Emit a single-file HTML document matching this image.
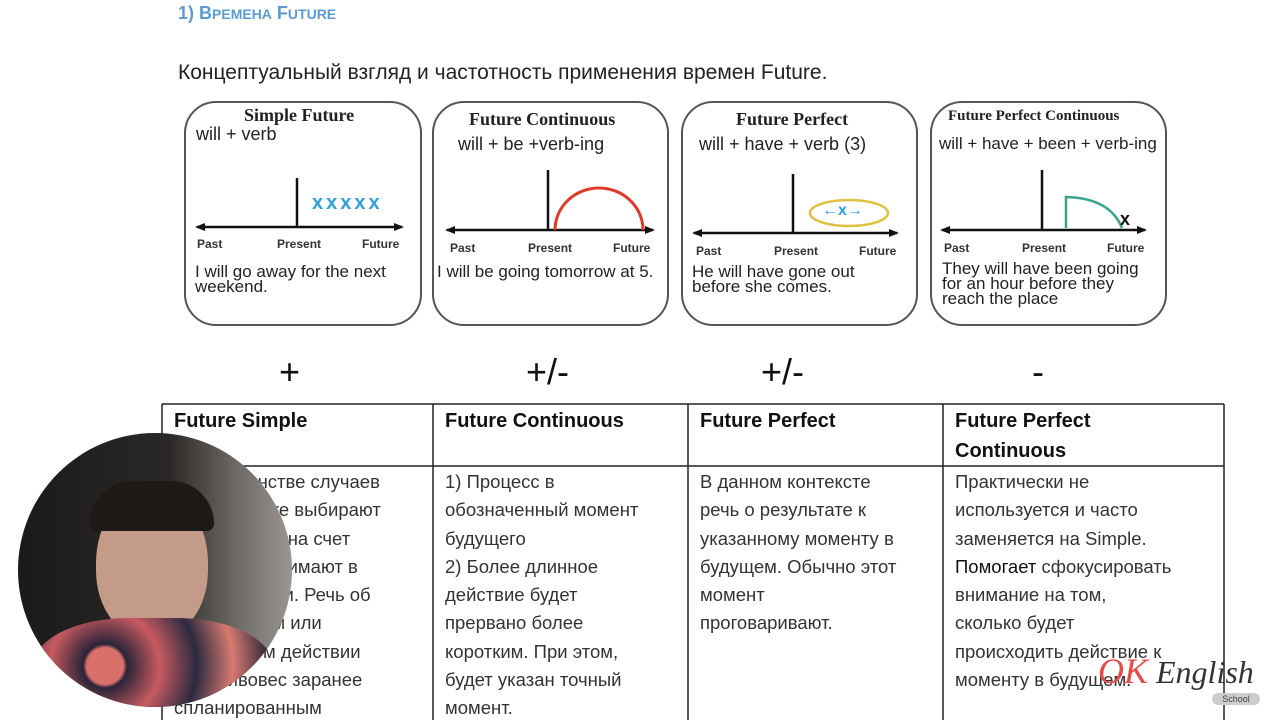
<!DOCTYPE html>
<html><head><meta charset="utf-8"><style>
body{margin:0;width:1280px;height:720px;overflow:hidden;background:#fff;position:relative;font-family:"Liberation Sans",sans-serif;color:#222}
.a{position:absolute;white-space:nowrap}
.card{position:absolute;border:2px solid #555;border-radius:32px;background:#fff;box-sizing:border-box}
.t{font-family:"Liberation Serif",serif;font-weight:bold;font-size:18px;color:#222}
.f{font-size:18px;color:#222}
.s{font-size:17px;color:#222;line-height:15px}
.lb{font-size:12px;font-weight:bold;color:#333}
.cell{position:absolute;font-size:18.5px;line-height:28.3px;color:#333;white-space:nowrap}
.h{position:absolute;font-size:20px;font-weight:bold;line-height:30px;color:#111}
.sym{position:absolute;font-size:36px;color:#111}
</style></head><body>
<div class="a" style="left:178px;top:3px;font-size:18px;font-weight:bold;color:#5b9bd5">1) В<span style="font-size:14px">РЕМЕНА</span> F<span style="font-size:14px">UTURE</span></div>
<div class="a" style="left:178px;top:61px;font-size:21px;color:#222">Концептуальный взгляд и частотность применения времен Future.</div>

<div class="card" style="left:184px;top:101px;width:238px;height:225px"></div>
<div class="card" style="left:432px;top:101px;width:237px;height:225px"></div>
<div class="card" style="left:681px;top:101px;width:237px;height:225px"></div>
<div class="card" style="left:930px;top:101px;width:237px;height:225px"></div>

<div class="a t" style="left:244px;top:105px">Simple Future</div>
<div class="a f" style="left:196px;top:124px">will + verb</div>
<div class="a t" style="left:469px;top:109px">Future Continuous</div>
<div class="a f" style="left:458px;top:134px">will + be +verb-ing</div>
<div class="a t" style="left:736px;top:109px">Future Perfect</div>
<div class="a f" style="left:699px;top:134px">will + have + verb (3)</div>
<div class="a t" style="left:948px;top:108px;font-size:15px">Future Perfect Continuous</div>
<div class="a f" style="left:939px;top:134px;font-size:17px">will + have + been + verb-ing</div>

<svg class="a" style="left:0;top:0" width="1280" height="340">
<defs><marker id="ar" markerUnits="userSpaceOnUse" markerWidth="10" markerHeight="8" refX="8" refY="4" orient="auto-start-reverse"><path d="M0,0L10,4L0,8z" fill="#111"/></marker></defs>
<g stroke="#111" stroke-width="2.5">
<line x1="197" y1="227" x2="402" y2="227" marker-start="url(#ar)" marker-end="url(#ar)"/>
<line x1="297" y1="178" x2="297" y2="227"/>
<line x1="447" y1="230" x2="653" y2="230" marker-start="url(#ar)" marker-end="url(#ar)"/>
<line x1="548" y1="170" x2="548" y2="230"/>
<line x1="694" y1="233" x2="897" y2="233" marker-start="url(#ar)" marker-end="url(#ar)"/>
<line x1="793" y1="174" x2="793" y2="233"/>
<line x1="942" y1="230" x2="1145" y2="230" marker-start="url(#ar)" marker-end="url(#ar)"/>
<line x1="1042" y1="170" x2="1042" y2="230"/>
</g>
<path d="M555,230 A44,42 0 0 1 643,230" fill="none" stroke="#e03a2a" stroke-width="3"/>
<ellipse cx="849" cy="213" rx="39" ry="13" fill="none" stroke="#e0c040" stroke-width="2.5"/>
<path d="M1066,228 L1066,197 Q1110,198 1122,228" fill="none" stroke="#3aa38a" stroke-width="2.5"/>
</svg>
<div class="a" style="left:312px;top:192px;font-size:20px;font-weight:bold;color:#2ea0dc;letter-spacing:3px">xxxxx</div>
<div class="a" style="left:822px;top:202px;font-size:16px;font-weight:bold;color:#2ea0dc">←x→</div>
<div class="a" style="left:1120px;top:209px;font-size:18px;font-weight:bold;color:#111">x</div>

<div class="a lb" style="left:197px;top:237px">Past</div><div class="a lb" style="left:277px;top:237px">Present</div><div class="a lb" style="left:362px;top:237px">Future</div>
<div class="a lb" style="left:450px;top:241px">Past</div><div class="a lb" style="left:528px;top:241px">Present</div><div class="a lb" style="left:613px;top:241px">Future</div>
<div class="a lb" style="left:696px;top:244px">Past</div><div class="a lb" style="left:774px;top:244px">Present</div><div class="a lb" style="left:859px;top:244px">Future</div>
<div class="a lb" style="left:944px;top:241px">Past</div><div class="a lb" style="left:1022px;top:241px">Present</div><div class="a lb" style="left:1107px;top:241px">Future</div>

<div class="a s" style="left:195px;top:264px">I will go away for the next<br>weekend.</div>
<div class="a s" style="left:437px;top:264px">I will be going tomorrow at 5.</div>
<div class="a s" style="left:692px;top:264px">He will have gone out<br>before she comes.</div>
<div class="a s" style="left:942px;top:261px">They will have been going<br>for an hour before they<br>reach the place</div>

<div class="sym" style="left:279px;top:351px">+</div>
<div class="sym" style="left:526px;top:351px">+/-</div>
<div class="sym" style="left:761px;top:351px">+/-</div>
<div class="sym" style="left:1032px;top:351px">-</div>

<svg class="a" style="left:0;top:0" width="1280" height="720">
<g stroke="#222" stroke-width="1.5">
<line x1="162" y1="404" x2="1224" y2="404"/>
<line x1="162" y1="466" x2="1224" y2="466"/>
<line x1="162" y1="404" x2="162" y2="720"/>
<line x1="433" y1="404" x2="433" y2="720"/>
<line x1="688" y1="404" x2="688" y2="720"/>
<line x1="943" y1="404" x2="943" y2="720"/>
<line x1="1224" y1="404" x2="1224" y2="720"/>
</g></svg>
<div class="h" style="left:174px;top:406px">Future Simple</div>
<div class="h" style="left:445px;top:406px">Future Continuous</div>
<div class="h" style="left:700px;top:406px">Future Perfect</div>
<div class="h" style="left:955px;top:406px">Future Perfect<br>Continuous</div>

<div class="cell" style="left:174px;top:468px">В большинстве случаев<br>Simple Future выбирают<br>как решение на счет<br>которое принимают в<br>моменте речи. Речь об<br>однократном или<br>спонтанном действии<br>в противовес заранее<br>спланированным</div>
<div class="cell" style="left:445px;top:468px">1) Процесс в<br>обозначенный момент<br>будущего<br>2) Более  длинное<br>действие будет<br>прервано более<br>коротким. При этом,<br>будет указан точный<br>момент.</div>
<div class="cell" style="left:700px;top:468px">В данном контексте<br>речь о результате к<br>указанному моменту в<br>будущем. Обычно  этот<br>момент<br>проговаривают.</div>
<div class="cell" style="left:955px;top:468px">Практически не<br>используется и часто<br>заменяется на Simple.<br><span style="color:#111">Помогает</span> сфокусировать<br>внимание на том,<br>сколько будет<br>происходить действие к<br>моменту в будущем.</div>

<div class="a" style="left:18px;top:433px;width:274px;height:274px;border-radius:50%;overflow:hidden;background:linear-gradient(90deg,#1b1a1a 0%,#2a2827 55%,#6e6a66 80%,#9b9690 100%)">
<div style="position:absolute;left:78px;top:55px;width:112px;height:150px;border-radius:50% 50% 45% 45%;background:#c49a88"></div>
<div style="position:absolute;left:72px;top:48px;width:124px;height:50px;border-radius:60px 60px 10px 10px;background:#1e1a18"></div>
<div style="position:absolute;left:15px;top:185px;width:240px;height:120px;border-radius:40% 40% 0 0;background:radial-gradient(circle at 30% 40%,#d9706a 0 10%,#2b2438 12%,#c85a60 30%,#2c2a40 50%,#d77a70 70%,#2a2538 90%)"></div>
</div>

<div class="a" style="left:1098px;top:650px;font-family:'Liberation Serif',serif;font-style:italic;font-size:36px;color:#e84a48">OK</div>
<div class="a" style="left:1156px;top:654px;font-family:'Liberation Serif',serif;font-style:italic;font-size:32px;color:#333">English</div>
<div class="a" style="left:1212px;top:693px;width:48px;height:12px;border-radius:6px;background:#ccc;font-size:9px;text-align:center;line-height:12px;color:#444">School</div>
</body></html>
